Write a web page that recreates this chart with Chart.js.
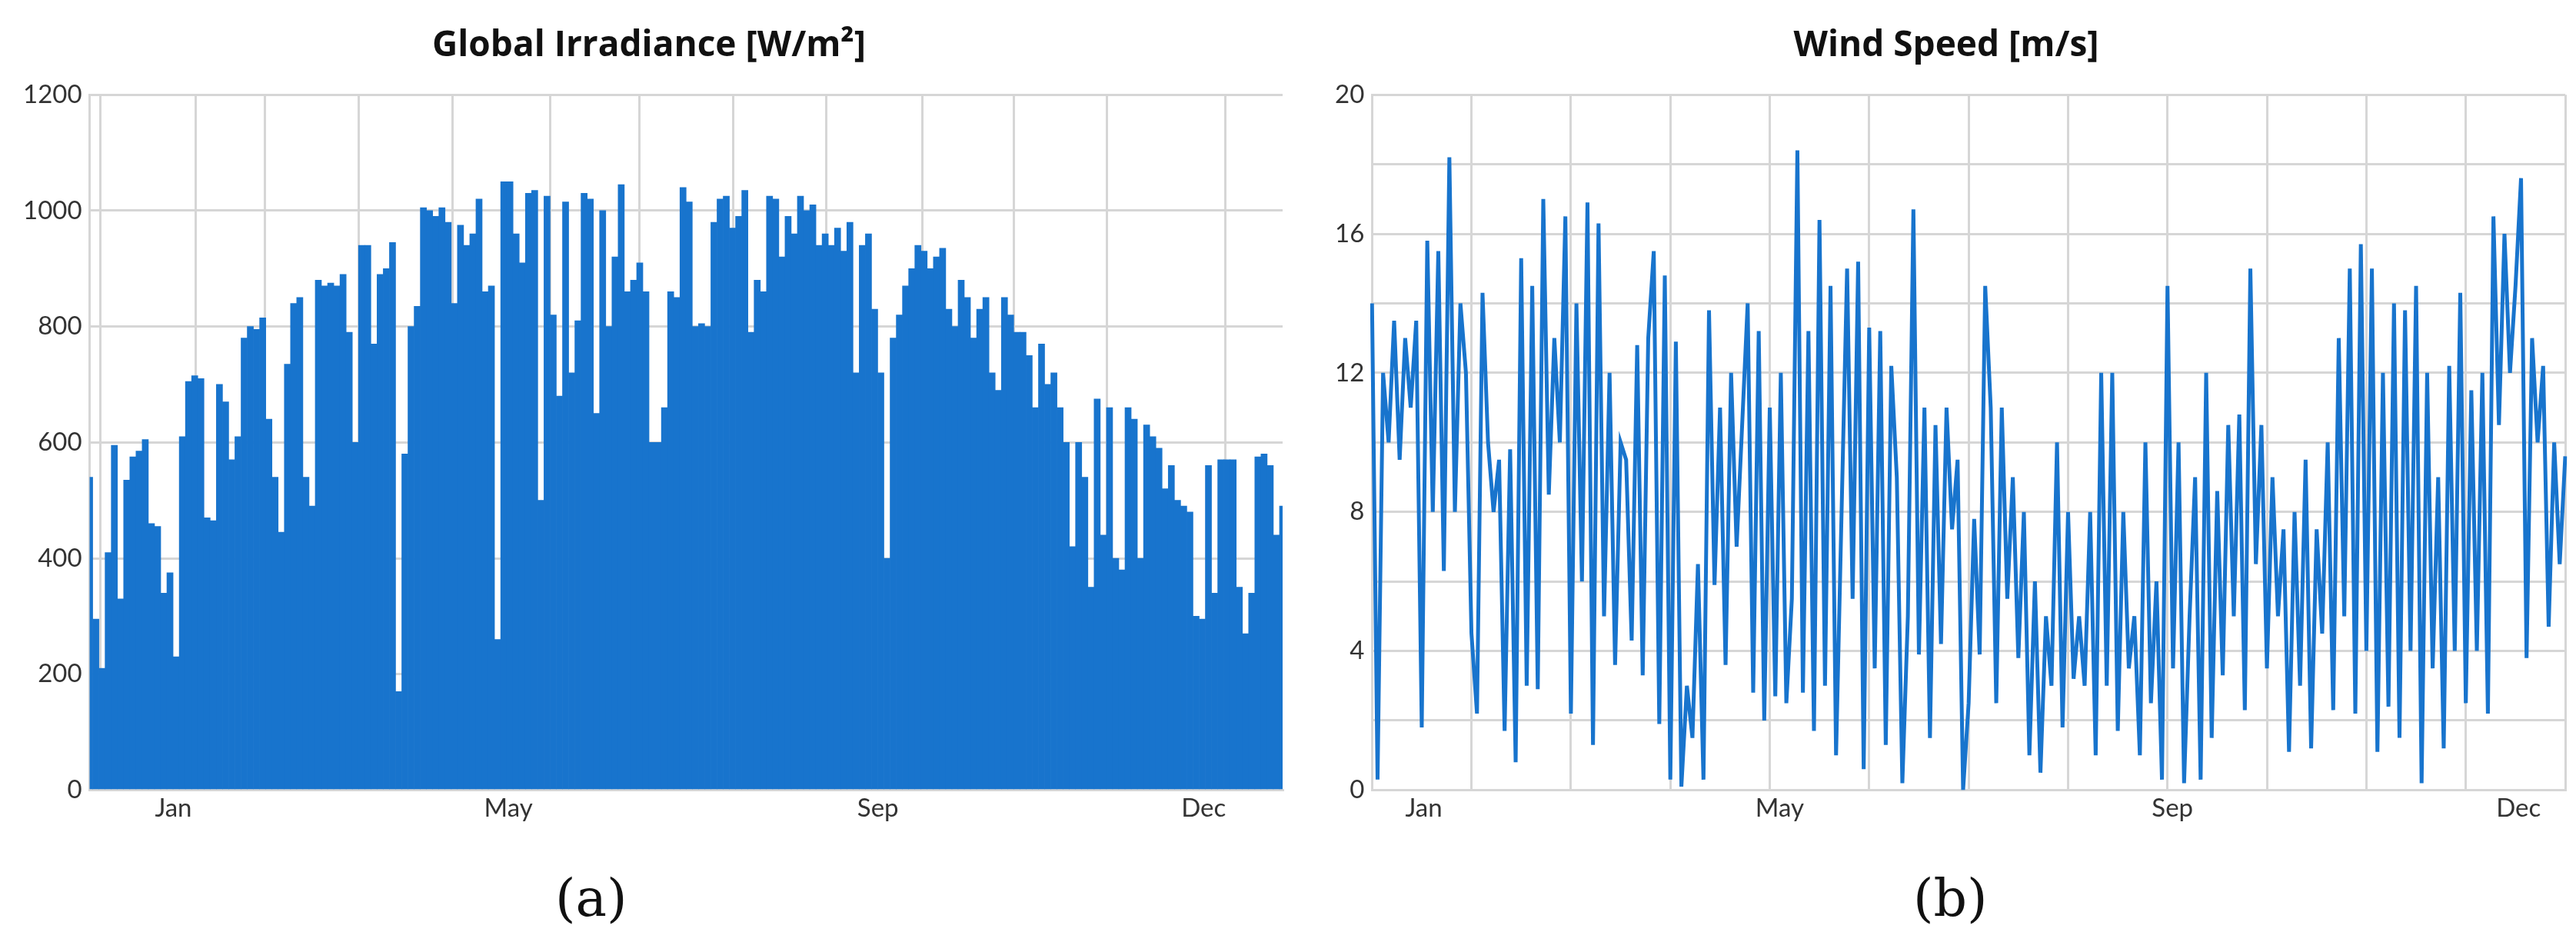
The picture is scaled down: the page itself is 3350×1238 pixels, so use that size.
<!DOCTYPE html>
<html>
<head>
<meta charset="utf-8">
<script src="https://cdn.jsdelivr.net/npm/chart.js@4"></script>
<style>
  body { margin: 0; background: #fff; width: 3350px; height: 1238px; position: relative; overflow: hidden; }
  .box { position: absolute; top: 0; height: 1085px; }
  .cap { position: absolute; top: 1128px; font-family: "DejaVu Serif", "Liberation Serif", serif; font-size: 68px; color: #111; }
</style>
</head>
<body>
<div class="box" style="left:0; width:1690px;"><canvas id="irr"></canvas></div>
<div class="box" style="left:1700px; width:1650px;"><canvas id="wind"></canvas></div>
<div class="cap" style="left:722px;">(a)</div>
<div class="cap" style="left:2488px;">(b)</div>
<script>
// Daily-ish peak global irradiance (W/m2), Jan -> Dec
const irradiance = [
  540,295,210,410,595,330,535,575,585,605,
  460,455,340,375,230,610,705,715,710,470,
  465,700,670,570,610,780,800,795,815,640,540,445,735,840,850,540,490,880,870,875,
  870,890,790,600,940,940,770,890,900,945,170,580,800,835,1005,1000,990,1005,980,840,
  975,940,960,1020,860,870,260,1050,1050,960,910,1030,1035,500,1025,820,680,1015,720,810,
  1030,1020,650,1000,800,920,1045,860,880,910,860,600,600,660,860,850,1040,1015,800,805,
  800,980,1020,1025,970,990,1035,790,880,860,1025,1020,920,990,960,1025,1000,1010,940,960,
  940,970,930,980,720,940,960,830,720,400,780,820,870,900,940,930,900,920,935,830,
  800,880,850,780,830,850,720,690,850,820,790,790,750,660,770,700,720,660,600,420,
  600,540,350,675,440,660,400,380,660,640,400,630,610,590,520,560,500,490,480,300,
  295,560,340,570,570,570,350,270,340,575,580,560,440,490
];

// Wind speed (m/s), Jan -> Dec
const windSpeed = [
  14,0.3,12,10,13.5,9.5,13,11,13.5,1.8,15.8,8,15.5,6.3,18.2,8,14,12,4.5,2.2,
  14.3,10,8,9.5,1.7,9.8,0.8,15.3,3,14.5,2.9,17,8.5,13,10,16.5,2.2,14,6,16.9,
  1.3,16.3,5,12,3.6,10,9.5,4.3,12.8,3.3,13,15.5,1.9,14.8,0.3,12.9,0.1,3,1.5,6.5,
  0.3,13.8,5.9,11,3.6,12,7,10.5,14,2.8,13.2,2,11,2.7,12,2.5,5.5,18.4,2.8,13.2,
  1.7,16.4,3,14.5,1,8,15,5.5,15.2,0.6,13.3,3.5,13.2,1.3,12.2,9,0.2,5,16.7,3.9,
  11,1.5,10.5,4.2,11,7.5,9.5,0,2.5,7.8,3.9,14.5,11,2.5,11,5.5,9,3.8,8,1,
  6,0.5,5,3,10,1.8,8,3.2,5,3,8,1,12,3,12,1.7,8,3.5,5,1,
  10,2.5,6,0.3,14.5,3.5,10,0.2,5,9,0.3,12,1.5,8.6,3.3,10.5,5,10.8,2.3,15,
  6.5,10.5,3.5,9,5,7.5,1.1,8,3,9.5,1.2,7.5,4.5,10,2.3,13,5,15,2.2,15.7,
  4,15,1.1,12,2.4,14,1.5,13.8,4,14.5,0.2,12,3.5,9,1.2,12.2,4,14.3,2.5,11.5,
  4,12,2.2,16.5,10.5,16,12,14.5,17.6,3.8,13,10,12.2,4.7,10,6.5,9.6
];

// month label positions (in months from 1 Jan) and texts
const monthLabelPos = [0.52, 4.1, 8.05, 11.53];
const monthLabels = ['Jan', 'May', 'Sep', 'Dec'];

const blue = '#1874CD';
const gridCol = '#d6d6d6';
const tickFont = { family: 'Lato, "Open Sans", sans-serif', size: 33 };

function monthAxis() {
  return {
    type: 'linear', position: 'bottom', min: 0, max: 12,
    afterBuildTicks: function(axis) {
      const t = [];
      for (let m = 0; m <= 12; m++) t.push({ value: m });
      monthLabelPos.forEach(p => t.push({ value: p }));
      t.sort((a, b) => a.value - b.value);
      axis.ticks = t;
    },
    ticks: {
      autoSkip: false, maxRotation: 0, color: '#333', font: tickFont, padding: 4,
      callback: function(v) {
        const i = monthLabelPos.indexOf(v);
        return i >= 0 ? monthLabels[i] : '';
      }
    },
    grid: {
      color: ctx => (ctx.tick && Number.isInteger(ctx.tick.value)) ? gridCol : 'rgba(0,0,0,0)',
      lineWidth: 3, drawTicks: false
    },
    border: { color: gridCol, width: 3 }
  };
}

function titleOpts(text) {
  return {
    display: true, text: text, color: '#111',
    font: { family: '"Open Sans", Lato, sans-serif', size: 46, weight: 'bold' },
    padding: { top: 32, bottom: 36 }
  };
}

new Chart(document.getElementById('irr'), {
  type: 'bar',
  data: {
    labels: irradiance.map((v, i) => i),
    datasets: [{ data: irradiance, backgroundColor: blue, borderWidth: 0,
                 barPercentage: 1, categoryPercentage: 1, xAxisID: 'x' }]
  },
  options: {
    responsive: true, maintainAspectRatio: false, animation: false,
    layout: { padding: { left: 20, right: 22, bottom: 10 } },
    plugins: { legend: { display: false }, tooltip: { enabled: false }, title: titleOpts('Global Irradiance [W/m²]') },
    scales: {
      x: { display: false, offset: false },
      xm: monthAxis(),
      y: {
        min: 0, max: 1200,
        ticks: { stepSize: 200, color: '#333', font: tickFont, padding: 10, callback: v => String(v) },
        grid: { color: gridCol, lineWidth: 3, drawTicks: false },
        border: { color: gridCol, width: 3 }
      }
    }
  }
});

new Chart(document.getElementById('wind'), {
  type: 'line',
  data: {
    labels: windSpeed.map((v, i) => i),
    datasets: [{ data: windSpeed, borderColor: blue, borderWidth: 5, pointRadius: 0,
                 tension: 0, fill: false, xAxisID: 'x' }]
  },
  options: {
    responsive: true, maintainAspectRatio: false, animation: false,
    layout: { padding: { left: 26, right: 14, bottom: 10 } },
    plugins: { legend: { display: false }, tooltip: { enabled: false }, title: titleOpts('Wind Speed [m/s]') },
    scales: {
      x: { display: false },
      xm: monthAxis(),
      y: {
        min: 0, max: 20,
        ticks: { stepSize: 2, color: '#333', font: tickFont, padding: 10,
                 callback: v => (v % 4 === 0 ? String(v) : '') },
        grid: { color: gridCol, lineWidth: 3, drawTicks: false },
        border: { color: gridCol, width: 3 }
      }
    }
  }
});
</script>
</body>
</html>
